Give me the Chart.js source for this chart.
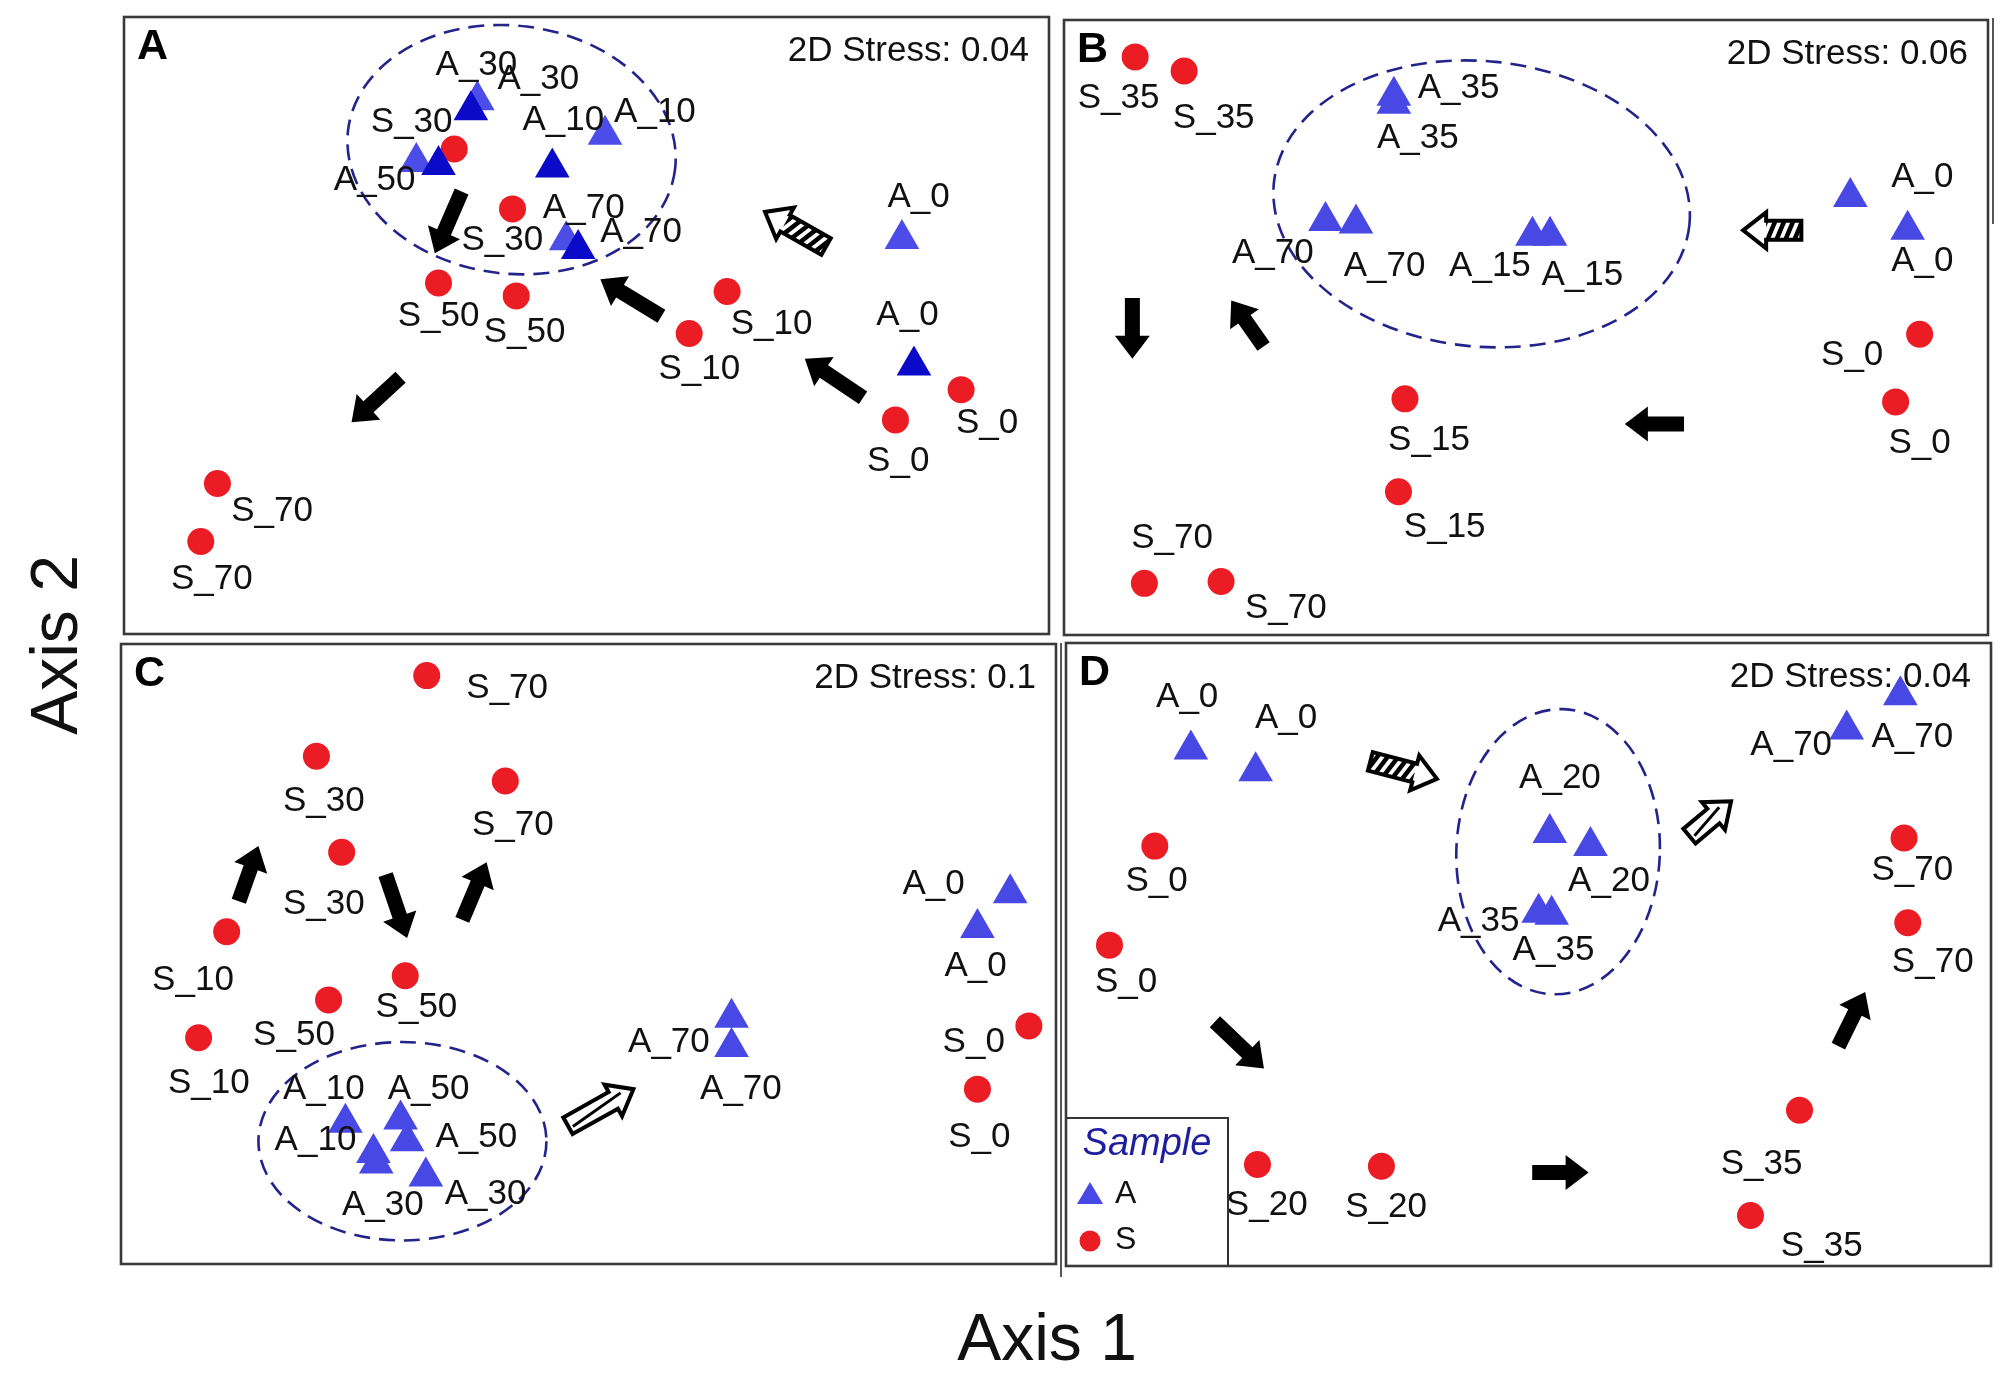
<!DOCTYPE html>
<html><head><meta charset="utf-8">
<script src="https://cdn.jsdelivr.net/npm/chart.js@4.4.1/dist/chart.umd.min.js"></script>
<style>
html,body{margin:0;padding:0;background:#fff;width:2003px;height:1382px;overflow:hidden;position:relative;font-family:"Liberation Sans",Arial,sans-serif}
canvas{position:absolute}
.axt{position:absolute;font-size:66px;color:#111;white-space:nowrap;line-height:1}
.vl{position:absolute;background:#555}
</style></head><body>
<div class="axt" style="left:1047px;top:1337px;transform:translate(-50%,-50%)">Axis 1</div>
<div class="axt" style="left:54px;top:645px;transform:translate(-50%,-50%) rotate(-90deg)">Axis 2</div>
<div class="vl" style="left:1060px;top:643px;width:2px;height:634px"></div>
<div class="vl" style="left:1992px;top:18px;width:2px;height:206px"></div>
<script>
// ---------------- DATA (NMDS coordinates, arbitrary units 0-100) ----------------
// Panel A
const aS = [[35.7,78.6],[42.0,68.9],[34.0,56.9],[42.4,54.8],[65.2,55.5],[61.1,48.7],[90.5,39.6],[83.4,34.7],[10.1,24.4],[8.3,15.0]];
const aAdark = [[37.5,84.9],[34.0,76.0],[46.3,75.6],[49.1,62.4],[85.4,43.5]];
const aAlight = [[38.2,86.5],[31.6,76.5],[52.0,80.9],[47.8,63.8],[84.1,64.0]];
const aLabels = [["A_30",38.1,92.2],["A_30",44.8,89.9],["S_30",31.1,82.9],["A_10",47.5,83.3],["A_10",57.4,84.6],["A_50",27.1,73.5],["A_70",49.7,69.0],["S_30",40.9,63.8],["A_70",55.9,65.1],["S_50",34.0,51.5],["S_50",43.3,48.9],["S_10",70.0,50.2],["S_10",62.2,42.9],["A_0",85.9,70.7],["A_0",84.7,51.7],["S_0",93.3,34.2],["S_0",83.7,28.0],["S_70",16.0,19.9],["S_70",9.5,8.8]];
const aArrows = [["solid",36.5,71.7,33.6,61.7],["hatch",75.9,62.8,69.3,68.4],["solid",58.1,51.5,51.5,57.5],["solid",79.9,38.3,73.6,44.6],["solid",29.9,41.6,24.6,34.3]];
const aEllipse = [41.9,78.5,17.8,20.1];
const aStress = "2D Stress: 0.04";
// Panel B
const bS = [[7.7,94.0],[13.0,91.7],[92.6,48.9],[90.0,37.9],[36.9,38.4],[36.2,23.3],[8.7,8.4],[17.0,8.7]];
const bA = [[35.7,87.7],[35.7,86.4],[28.3,67.3],[31.6,66.9],[50.7,64.9],[52.6,64.9],[85.1,71.2],[91.3,65.9]];
const bLabels = [["S_35",5.9,87.3],["S_35",16.2,84.0],["A_35",42.7,88.9],["A_35",38.3,80.7],["A_70",22.6,62.1],["A_70",34.7,60.0],["A_15",46.1,60.0],["A_15",56.1,58.5],["A_0",92.9,74.4],["A_0",92.9,60.8],["S_0",85.3,45.5],["S_0",92.6,31.1],["S_15",39.5,31.6],["S_15",41.2,17.5],["S_70",11.7,15.7],["S_70",24.0,4.4]];
const bArrows = [["hatch",79.8,65.8,73.5,65.8],["solid",21.6,46.9,18.1,54.4],["solid",7.4,54.8,7.4,44.9],["solid",67.1,34.3,60.7,34.3]];
const bEllipse = [45.2,70.1,22.6,23.2];
const bStress = "2D Stress: 0.06";
// Panel C
const cS = [[32.7,94.9],[20.9,81.9],[41.1,77.9],[23.6,66.4],[11.3,53.6],[30.4,46.5],[22.2,42.6],[8.3,36.5],[97.1,38.4],[91.6,28.2]];
const cA = [[95.1,59.8],[91.6,54.2],[65.3,39.7],[65.3,35.0],[24.0,22.8],[29.9,23.3],[30.6,19.8],[27.0,17.9],[27.3,16.2],[32.6,14.1]];
const cLabels = [["S_70",41.3,92.9],["S_30",21.7,74.6],["S_70",41.9,70.7],["S_30",21.7,58.0],["S_10",7.7,45.7],["S_50",31.6,41.4],["S_50",18.5,36.8],["S_10",9.4,29.2],["A_10",21.7,28.2],["A_50",32.9,28.2],["A_10",20.8,20.0],["A_50",38.0,20.5],["A_30",28.0,9.5],["A_30",39.0,11.2],["A_70",58.6,35.8],["A_70",66.3,28.2],["A_0",86.9,61.3],["A_0",91.4,48.0],["S_0",91.2,35.8],["S_0",91.8,20.5]];
const cArrows = [["solid",12.6,58.5,14.7,67.4],["solid",28.3,62.8,30.6,52.6],["solid",36.5,55.5,39.1,64.8],["open",47.8,22.3,54.8,28.2]];
const cEllipse = [30.1,19.8,15.4,16.0];
const cStress = "2D Stress: 0.1";
// Panel D
const dS = [[9.6,67.4],[4.7,51.5],[20.7,16.3],[34.1,16.0],[79.3,25.0],[74.0,8.1],[90.6,68.7],[91.0,55.1]];
const dA = [[13.5,82.9],[20.5,79.4],[52.3,69.5],[56.7,67.4],[51.1,56.7],[52.5,56.4],[84.4,86.1],[90.2,91.6]];
const dLabels = [["A_0",13.1,91.3],["A_0",23.8,87.9],["S_0",9.8,61.8],["S_0",6.5,45.6],["A_20",53.4,78.2],["A_20",58.7,61.7],["A_35",44.6,55.3],["A_35",52.7,50.7],["A_70",78.4,83.5],["A_70",91.5,84.8],["S_70",91.5,63.5],["S_70",93.7,48.7],["S_35",75.2,16.3],["S_35",81.7,3.2],["S_20",21.7,9.7],["S_20",34.6,9.4]];
const dArrows = [["hatch",32.9,81.0,40.1,78.2],["open",67.4,69.0,71.9,74.6],["solid",16.1,39.2,21.4,31.7],["solid",50.4,15.0,56.5,15.0],["solid",83.5,35.3,86.4,44.0]];
const dEllipse = [53.2,66.5,11.0,22.9];
const dStress = "2D Stress: 0.04";
const legendTitle = "Sample";
const legendItems = ["A","S"];

// ---------------- STYLE / LAYOUT ----------------
const RED = "#ec1c24", BLUE = "#4848e4", DARKBLUE = "#0a0ac8", LIGHTBLUE = "#4c4ce8";
const FONT = '"Liberation Sans", Arial, sans-serif';
const pts = arr => arr.map(([x,y]) => ({x, y}));

function drawArrow(ctx, type, x1, y1, x2, y2) {
  const dx = x2 - x1, dy = y2 - y1, L = Math.hypot(dx, dy);
  const ux = dx / L, uy = dy / L, nx = -uy, ny = ux;
  const sw = type === "solid" ? 15 : 19, hw = type === "solid" ? 35 : 36, hl = 23;
  const bx = x2 - ux * hl, by = y2 - uy * hl;
  const P = [[x1 + nx*sw/2, y1 + ny*sw/2],[bx + nx*sw/2, by + ny*sw/2],[bx + nx*hw/2, by + ny*hw/2],[x2, y2],
             [bx - nx*hw/2, by - ny*hw/2],[bx - nx*sw/2, by - ny*sw/2],[x1 - nx*sw/2, y1 - ny*sw/2]];
  ctx.save();
  ctx.beginPath();
  P.forEach((p, i) => i ? ctx.lineTo(p[0], p[1]) : ctx.moveTo(p[0], p[1]));
  ctx.closePath();
  if (type === "solid") { ctx.fillStyle = "#000"; ctx.fill(); ctx.restore(); return; }
  ctx.fillStyle = "#fff"; ctx.fill();
  ctx.lineWidth = 4; ctx.strokeStyle = "#000"; ctx.lineJoin = "miter"; ctx.stroke();
  if (type === "hatch") {
    ctx.beginPath();
    ctx.moveTo(P[0][0], P[0][1]); ctx.lineTo(P[1][0], P[1][1]); ctx.lineTo(P[5][0], P[5][1]); ctx.lineTo(P[6][0], P[6][1]); ctx.closePath();
    ctx.clip();
    ctx.lineWidth = 4.5;
    for (let t = 3; t < L - hl + 6; t += 9) {
      const cx = x1 + ux*t, cy = y1 + uy*t;
      ctx.beginPath();
      ctx.moveTo(cx + nx*sw/2 - ux*4, cy + ny*sw/2 - uy*4);
      ctx.lineTo(cx - nx*sw/2 + ux*4, cy - ny*sw/2 + uy*4);
      ctx.stroke();
    }
  } else {
    ctx.lineWidth = 3;
    ctx.beginPath();
    ctx.moveTo(x1 + ux*4 + nx*3, y1 + uy*4 + ny*3);
    ctx.lineTo(bx + ux*10 - nx*3, by + uy*10 - ny*3);
    ctx.stroke();
  }
  ctx.restore();
}

function makePanel(frame, letter, datasets, labels, arrows, ell, stress, withLegend) {
  const PAD = 26;
  const cv = document.createElement("canvas");
  cv.width = frame[2] + 2*PAD; cv.height = frame[3] + 2*PAD;
  cv.style.left = (frame[0] - PAD) + "px"; cv.style.top = (frame[1] - PAD) + "px";
  cv.style.width = cv.width + "px"; cv.style.height = cv.height + "px";
  document.body.appendChild(cv);
  const annot = {
    id: "annot" + letter,
    beforeDatasetsDraw(chart) {
      const {ctx, chartArea: a, scales: {x, y}} = chart;
      ctx.save();
      const cx = x.getPixelForValue(ell[0]), cy = y.getPixelForValue(ell[1]);
      const rx = x.getPixelForValue(ell[0] + ell[2]) - cx, ry = cy - y.getPixelForValue(ell[1] + ell[3]);
      ctx.beginPath();
      ctx.ellipse(cx, cy, rx, ry, ell[4] || 0, 0, Math.PI*2);
      ctx.setLineDash([16, 9]); ctx.lineWidth = 2.6; ctx.strokeStyle = "#23238c"; ctx.stroke();
      ctx.setLineDash([]);
      ctx.fillStyle = "#111";
      ctx.font = "35px " + FONT; ctx.textAlign = "right"; ctx.textBaseline = "middle";
      ctx.fillText(stress, a.right - 20, a.top + 34);
      ctx.fillStyle = "#000";
      ctx.font = "bold 43px " + FONT; ctx.textAlign = "left";
      ctx.fillText(letter, a.left + 13, a.top + 30);
      ctx.restore();
    },
    afterDatasetsDraw(chart) {
      const {ctx, chartArea: a, scales: {x, y}} = chart;
      ctx.save();
      arrows.forEach(r => drawArrow(ctx, r[0], x.getPixelForValue(r[1]), y.getPixelForValue(r[2]), x.getPixelForValue(r[3]), y.getPixelForValue(r[4])));
      ctx.fillStyle = "#111"; ctx.font = "35px " + FONT; ctx.textAlign = "center"; ctx.textBaseline = "middle";
      labels.forEach(l => ctx.fillText(l[0], x.getPixelForValue(l[1]), y.getPixelForValue(l[2])));
      if (withLegend) {
        const L = a.left, B = a.bottom;
        ctx.fillStyle = "#fff"; ctx.fillRect(L, B - 148, 162, 148);
        ctx.lineWidth = 2; ctx.strokeStyle = "#333"; ctx.strokeRect(L, B - 148, 162, 148);
        ctx.fillStyle = "#1e1e9e"; ctx.font = "italic 38px " + FONT; ctx.textAlign = "center";
        ctx.fillText(legendTitle, L + 81, B - 122);
        ctx.fillStyle = BLUE; ctx.beginPath();
        ctx.moveTo(L + 24, B - 84); ctx.lineTo(L + 37, B - 62); ctx.lineTo(L + 11, B - 62); ctx.closePath(); ctx.fill();
        ctx.fillStyle = RED; ctx.beginPath(); ctx.arc(L + 24, B - 25, 10.5, 0, Math.PI*2); ctx.fill();
        ctx.fillStyle = "#111"; ctx.font = "32px " + FONT; ctx.textAlign = "left";
        ctx.fillText(legendItems[0], L + 49, B - 72);
        ctx.fillText(legendItems[1], L + 49, B - 26);
      }
      ctx.restore();
    },
    afterDraw(chart) {
      const {ctx, chartArea: a} = chart;
      ctx.save(); ctx.lineWidth = 2.6; ctx.strokeStyle = "#3a3a3a";
      ctx.strokeRect(a.left, a.top, a.right - a.left, a.bottom - a.top);
      ctx.restore();
    }
  };
  new Chart(cv, {
    type: "scatter",
    data: {datasets},
    options: {
      responsive: false, animation: false, events: [],
      layout: {padding: PAD},
      plugins: {legend: {display: false}, tooltip: {enabled: false}},
      scales: {x: {type: "linear", min: 0, max: 100, display: false}, y: {type: "linear", min: 0, max: 100, display: false}}
    },
    plugins: [annot]
  });
}

const circ = (d, order) => ({data: pts(d), pointStyle: "circle", pointRadius: 13.5, backgroundColor: RED, borderColor: RED, borderWidth: 0, clip: false, order});
const tri = (d, col, order) => ({data: pts(d), pointStyle: "triangle", pointRadius: 20, backgroundColor: col, borderColor: col, borderWidth: 0, clip: false, order});

makePanel([124,17,925,617], "A", [tri(aAdark, DARKBLUE, 0), circ(aS, 1), tri(aAlight, LIGHTBLUE, 2)], aLabels, aArrows, [...aEllipse, 0.12], aStress, false);
makePanel([1064,20,924,615], "B", [circ(bS, 1), tri(bA, BLUE, 0)], bLabels, bArrows, [...bEllipse, 0.1], bStress, false);
makePanel([121,644,935,620], "C", [circ(cS, 1), tri(cA, BLUE, 0)], cLabels, cArrows, [...cEllipse, 0], cStress, false);
makePanel([1066,643,925,623], "D", [circ(dS, 1), tri(dA, BLUE, 0)], dLabels, dArrows, [...dEllipse, 0.04], dStress, true);
</script>
</body></html>
